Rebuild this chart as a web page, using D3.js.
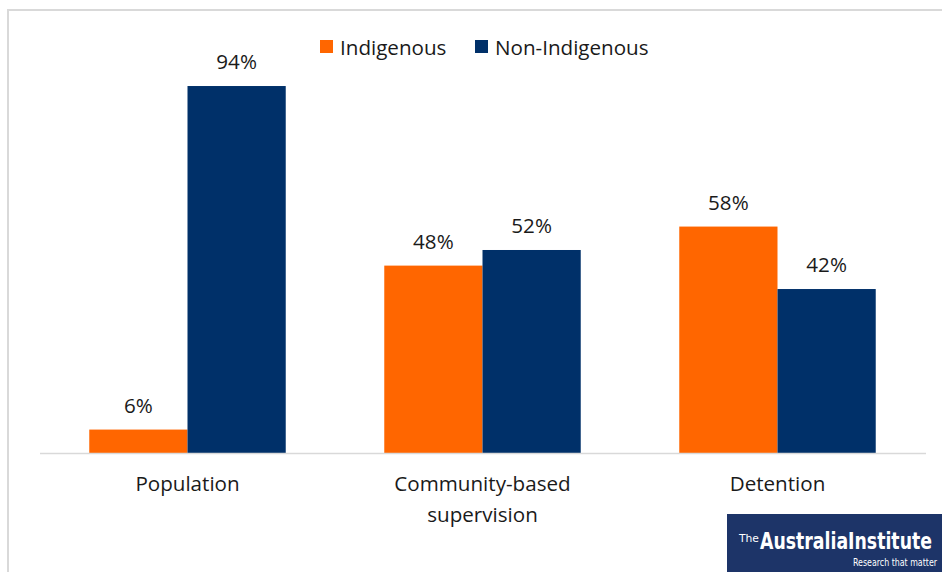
<!DOCTYPE html>
<html><head><meta charset="utf-8">
<script src="https://cdn.jsdelivr.net/npm/d3@7"></script>
<style>body{margin:0;background:#fff}svg{display:block}</style>
</head><body>
<svg id="c" width="942" height="572"></svg>
<script>
const categories = ["Population", "Community-based supervision", "Detention"];
const categoryLines = [["Population"], ["Community-based", "supervision"], ["Detention"]];
const seriesNames = ["Indigenous", "Non-Indigenous"];
const indigenous = [6, 48, 58];
const nonIndigenous = [94, 52, 42];
const colors = ["#ff6600", "#003069"];

const svg = d3.select("#c");
const font = "'Open Sans', sans-serif";
const fs = 20.6;
const tc = "#1a1a1a";
// frame
svg.append("line").attr("x1",8).attr("x2",942).attr("y1",10).attr("y2",10).attr("stroke","#d9d9d9").attr("stroke-width",2);
svg.append("line").attr("x1",8).attr("x2",8).attr("y1",9).attr("y2",572).attr("stroke","#d9d9d9").attr("stroke-width",2);

const x0 = d3.scaleBand().domain(categories).range([40, 925]).paddingInner(0.334).paddingOuter(0.167);
const x1 = d3.scaleBand().domain(seriesNames).range([0, x0.bandwidth()]);
const y = d3.scaleLinear().domain([0, 100]).range([453, 62.6]);

const data = categories.map((c,i)=>({cat:c, vals:[indigenous[i], nonIndigenous[i]]}));
const g = svg.append("g");
data.forEach((d,i)=>{
  d.vals.forEach((v,j)=>{
    const xx = x0(d.cat) + x1(seriesNames[j]);
    g.append("rect").attr("x",xx).attr("y",y(v)).attr("width",x1.bandwidth()).attr("height",y(0)-y(v)).attr("fill",colors[j]);
    g.append("text").attr("x",xx + x1.bandwidth()/2).attr("y",y(v)-17).attr("text-anchor","middle")
      .attr("font-family",font).attr("font-size",fs).attr("fill",tc).text(v+"%");
  });
});
// baseline
svg.append("line").attr("x1",40).attr("x2",926).attr("y1",453.5).attr("y2",453.5).attr("stroke","#d9d9d9").attr("stroke-width",1.5);
// category labels
categoryLines.forEach((lines,i)=>{
  const t = svg.append("text").attr("x",x0(categories[i])+x0.bandwidth()/2).attr("y",491).attr("text-anchor","middle")
    .attr("font-family",font).attr("font-size",fs).attr("fill",tc);
  lines.forEach((l,k)=>t.append("tspan").attr("x",x0(categories[i])+x0.bandwidth()/2).attr("dy",k?31:0).text(l));
});
// legend
const leg = [{x:320, tx:340},{x:475, tx:495}];
seriesNames.forEach((s,j)=>{
  svg.append("rect").attr("x",leg[j].x).attr("y",40).attr("width",13).attr("height",13).attr("fill",colors[j]);
  svg.append("text").attr("x",leg[j].tx).attr("y",55).attr("font-family",font).attr("font-size",fs).attr("fill",tc).text(s);
});
// logo
const lf = "'DejaVu Sans Condensed','Liberation Sans',sans-serif";
svg.append("rect").attr("x",727).attr("y",514).attr("width",215).attr("height",58).attr("fill","#1d3468");
svg.append("text").attr("transform","translate(739,542)").attr("font-family",lf).attr("font-size",11).attr("fill","#fff")
  .attr("textLength",20).attr("lengthAdjust","spacingAndGlyphs").text("The");
svg.append("text").attr("transform","translate(760,549) scale(1,1.4)").attr("font-family",lf).attr("font-weight","bold").attr("font-size",16.5).attr("fill","#fff")
  .attr("textLength",172).attr("lengthAdjust","spacingAndGlyphs").text("AustraliaInstitute");
svg.append("text").attr("transform","translate(853,566) scale(1,1.2)").attr("font-family",lf).attr("font-size",8.5).attr("fill","#fff")
  .attr("textLength",84).attr("lengthAdjust","spacingAndGlyphs").text("Research that matter");
</script>
</body></html>
